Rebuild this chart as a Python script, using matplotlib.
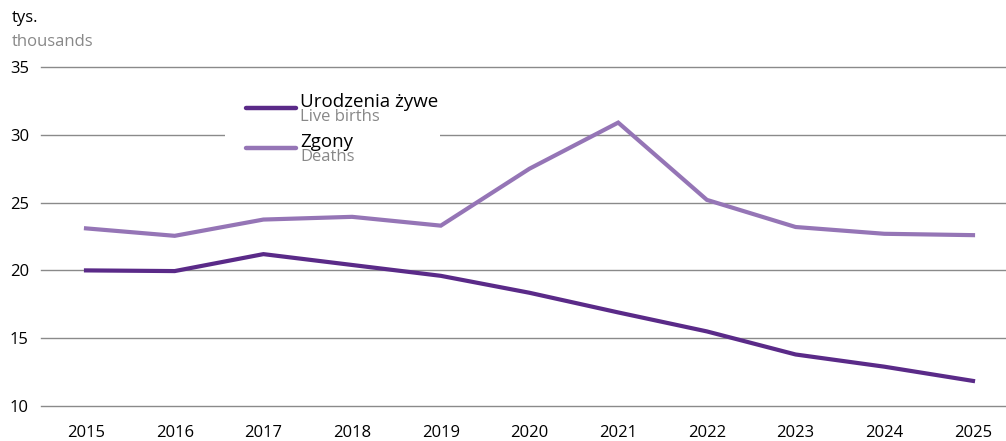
import matplotlib.pyplot as plt
from matplotlib.lines import Line2D
from matplotlib.patches import Rectangle

plt.rcParams['font.family'] = ['Open Sans', 'DejaVu Sans']

years = [2015, 2016, 2017, 2018, 2019, 2020, 2021, 2022, 2023, 2024, 2025]
births = [20.0, 19.95, 21.2, 20.4, 19.6, 18.35, 16.9, 15.5, 13.8, 12.9, 11.85]
deaths = [23.1, 22.55, 23.75, 23.95, 23.3, 27.5, 30.9, 25.2, 23.2, 22.7, 22.6]

c_births = '#5a2a88'
c_deaths = '#9575b6'
c_grid = '#8a8a8a'

fig = plt.figure(figsize=(10.06, 4.41), dpi=100)
ax = fig.add_axes([41 / 1006, 1 - 406 / 441, 1 - 41 / 1006, (406 - 67) / 441])

ax.plot(years, deaths, color=c_deaths, lw=3.0, solid_joinstyle='miter', zorder=3)
ax.plot(years, births, color=c_births, lw=3.0, solid_joinstyle='miter', zorder=3)

ax.set_xlim(2015 - 45 / 88.7, 2025 + 33 / 88.7)
ax.set_ylim(10, 35)
ax.set_yticks([10, 15, 20, 25, 30, 35])
ax.set_xticks(years)
for yv in [10, 15, 20, 25, 30, 35]:
    ax.axhline(yv, color=c_grid, lw=1.0, clip_on=False, zorder=1)
for s in ax.spines.values():
    s.set_visible(False)
ax.tick_params(length=0, labelsize=12, colors='black')
ax.tick_params(axis='x', pad=14)
ax.tick_params(axis='y', pad=0)
for lab in ax.get_yticklabels():
    lab.set_horizontalalignment('left')
    lab.set_x(-31 / 965)

# units label
fig.text(12 / 1006, 1 - 18 / 441, 'tys.', fontsize=12, va='center', ha='left')
fig.text(12 / 1006, 1 - 42 / 441, 'thousands', fontsize=12, va='center', ha='left', color='#888888')

# legend
W, H = 1006, 441
def fx(px):
    return px / W
def fy(py):
    return 1 - py / H

fig.patches.append(Rectangle((fx(225), fy(170)), fx(440) - fx(225), fy(88) - fy(170),
                             transform=fig.transFigure, facecolor='white', edgecolor='none', zorder=2))
for y0, col, t1, t2 in [(108, c_births, 'Urodzenia żywe', 'Live births'),
                        (148, c_deaths, 'Zgony', 'Deaths')]:
    fig.add_artist(Line2D([fx(246), fx(296)], [fy(y0), fy(y0)], color=col, lw=3.2,
                          solid_capstyle='round', transform=fig.transFigure, zorder=4))
    fig.text(fx(300), fy(y0 - 6), t1, fontsize=13.5, va='center', ha='left', zorder=4)
    fig.text(fx(300), fy(y0 + 9), t2, fontsize=12, va='center', ha='left', color='#888888', zorder=4)

fig.savefig('out.png', dpi=100)
